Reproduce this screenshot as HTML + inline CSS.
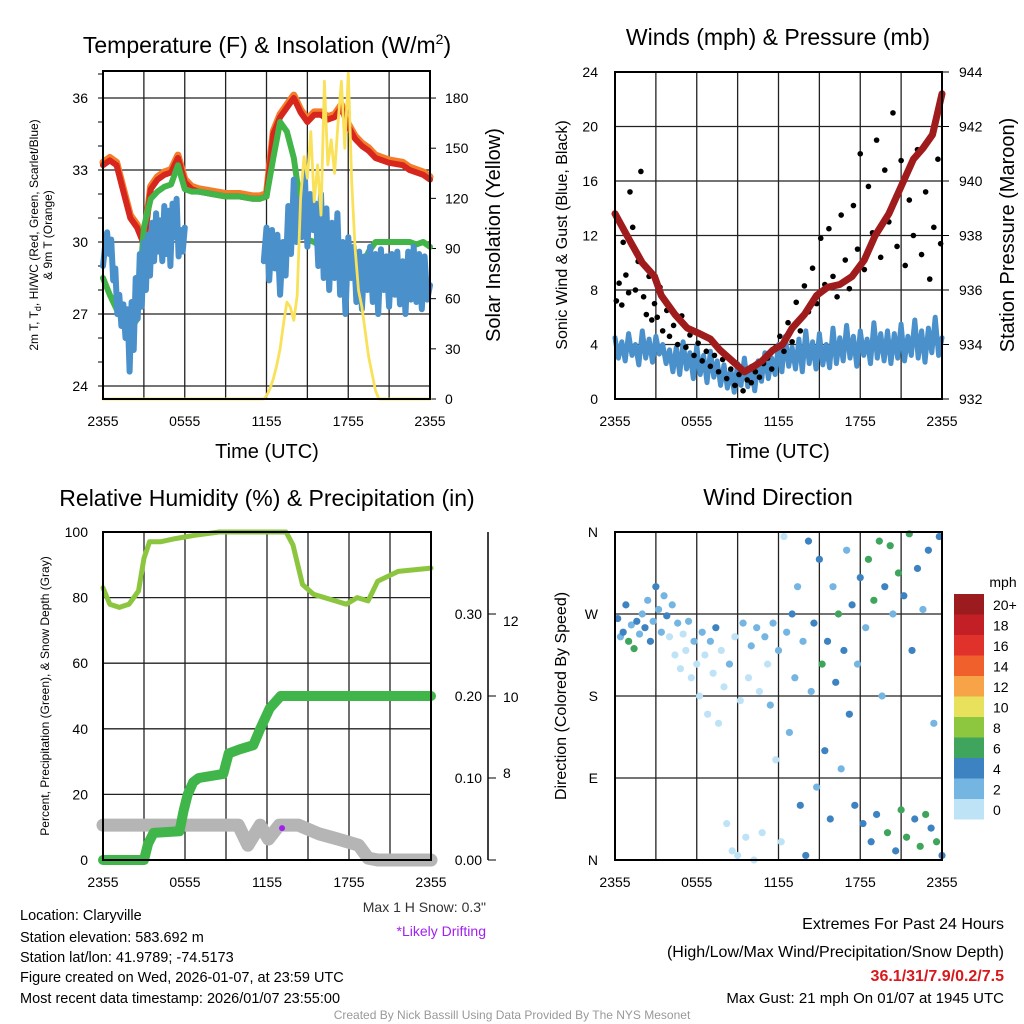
<!DOCTYPE html>
<html><head><meta charset="utf-8"><style>
html,body{margin:0;padding:0;background:#fff;}
svg{display:block;font-family:"Liberation Sans",sans-serif;}
</style></head><body>
<svg id="root" width="1024" height="1024" viewBox="0 0 1024 1024">
<g id="g1"></g>
<g id="g2"></g>
<g id="g3"></g>
<g id="g4"></g>
<g id="txt">
<text x="267" y="53" font-size="23" text-anchor="middle">Temperature (F) &amp; Insolation (W/m<tspan dy="-9" font-size="14">2</tspan><tspan dy="9">)</tspan></text>
<text x="778" y="45" font-size="23" text-anchor="middle">Winds (mph) &amp; Pressure (mb)</text>
<text x="267" y="506" font-size="23" text-anchor="middle">Relative Humidity (%) &amp; Precipitation (in)</text>
<text x="778" y="505" font-size="23" text-anchor="middle">Wind Direction</text>
<text x="267" y="458" font-size="20" text-anchor="middle">Time (UTC)</text>
<text x="778" y="458" font-size="20" text-anchor="middle">Time (UTC)</text>
<text transform="translate(38,235) rotate(-90)" font-size="12" text-anchor="middle">2m T, T<tspan dy="3" font-size="9">d</tspan><tspan dy="-3">, HI/WC (Red, Green, Scarlet/Blue)</tspan></text>
<text transform="translate(52,235) rotate(-90)" font-size="12" text-anchor="middle">&amp; 9m T (Orange)</text>
<text transform="translate(500,235) rotate(-90)" font-size="20" text-anchor="middle">Solar Insolation (Yellow)</text>
<text transform="translate(567,235) rotate(-90)" font-size="16" text-anchor="middle">Sonic Wind &amp; Gust (Blue, Black)</text>
<text transform="translate(1014,235) rotate(-90)" font-size="20" text-anchor="middle">Station Pressure (Maroon)</text>
<text transform="translate(49,696) rotate(-90)" font-size="12" text-anchor="middle">Percent, Precipitation (Green), &amp; Snow Depth (Gray)</text>
<text transform="translate(566,696) rotate(-90)" font-size="16" text-anchor="middle">Direction (Colored By Speed)</text>
<text x="486" y="912" font-size="14" text-anchor="end" fill="#333">Max 1 H Snow: 0.3"</text>
<text x="486" y="936" font-size="14" text-anchor="end" fill="#a020f0">*Likely Drifting</text>
<g font-size="14.5">
<text x="20" y="920">Location: Claryville</text>
<text x="20" y="942">Station elevation: 583.692 m</text>
<text x="20" y="962">Station lat/lon: 41.9789; -74.5173</text>
<text x="20" y="982">Figure created on Wed, 2026-01-07, at 23:59 UTC</text>
<text x="20" y="1003">Most recent data timestamp: 2026/01/07 23:55:00</text>
</g>
<g font-size="16" text-anchor="end">
<text x="1004" y="929">Extremes For Past 24 Hours</text>
<text x="1004" y="957">(High/Low/Max Wind/Precipitation/Snow Depth)</text>
<text x="1004" y="981" fill="#d7191c" font-weight="bold">36.1/31/7.9/0.2/7.5</text>
<text x="1004" y="1003" font-size="15">Max Gust: 21 mph On 01/07 at 1945 UTC</text>
</g>
<text x="512" y="1019" font-size="12" text-anchor="middle" fill="#999">Created By Nick Bassill Using Data Provided By The NYS Mesonet</text>
</g>
</svg>
<script>
// ---------- data ----------
const xTickLabels = ["2355","0555","1155","1755","2355"];
const tempTimes = [0,0.5,1,1.5,2,2.5,3,3.5,4,4.5,5,5.5,6,6.5,7,8,9,10,11,11.5,12,12.5,13,13.5,14,14.5,15,15.5,16,16.5,17,17.5,18,18.5,19,19.5,20,21,22,22.5,23,23.5,24];
const hiwcTemps = [33.2,33.4,33.2,32.1,31.0,30.6,29.9,32.2,32.6,32.8,32.9,33.5,32.5,32.2,32.1,32.0,31.9,31.9,31.8,31.8,31.9,34.5,35.2,35.6,36.0,35.4,35.0,35.3,35.3,35.1,35.2,35.6,34.8,34.3,34.0,33.8,33.5,33.3,33.2,33.0,32.9,32.8,32.6];
const dewTemps = [28.5,27.8,27.2,26.7,26.3,26.8,30.6,31.8,32.1,32.3,32.4,33.2,32.2,32.1,32.1,32.0,31.9,31.9,31.8,31.8,31.9,33.5,35.0,34.6,33.5,31.5,30.1,30.0,29.8,29.7,29.2,28.6,28.5,28.7,29.0,29.6,30.0,30.0,30.0,30.0,29.9,30.0,29.8];
const blueTimes1 = [0,0.15,0.3,0.45,0.6,0.75,0.9,1.05,1.2,1.35,1.5,1.65,1.8,1.95,2.1,2.25,2.4,2.55,2.7,2.85,3.0,3.15,3.3,3.45,3.6,3.75,3.9,4.05,4.2,4.35,4.5,4.65,4.8,4.95,5.1,5.25,5.4,5.55,5.7,5.85,6.0];
const blueTemps1 = [29.0,29.8,30.4,29.5,30.1,28.4,28.9,27.0,27.8,26.5,27.4,26.0,27.2,24.6,27.5,25.5,28.5,26.8,29.5,27.3,30.0,28.0,30.3,28.6,30.8,29.2,31.2,29.6,30.9,29.2,31.5,29.5,31.3,29.0,31.6,30.2,31.8,29.4,30.5,29.6,30.6];
const blueTimes2 = [11.8,12.0,12.2,12.4,12.6,12.8,13.0,13.2,13.4,13.6,13.8,14.0,14.2,14.4,14.6,14.8,15.0,15.2,15.4,15.6,15.8,16.0,16.2,16.4,16.6,16.8,17.0,17.2,17.4,17.6,17.8,18.0,18.2,18.4,18.6,18.8,19.0,19.2,19.4,19.6,19.8,20.0,20.2,20.4,20.6,20.8,21.0,21.2,21.4,21.6,21.8,22.0,22.2,22.4,22.6,22.8,23.0,23.2,23.4,23.6,23.8,24.0];
const blueTemps2 = [29.2,30.6,28.4,30.5,28.9,30.3,27.8,30.0,28.6,31.5,29.5,32.6,30.0,31.8,30.2,33.0,29.8,32.0,30.5,31.6,29.0,32.0,28.5,31.4,28.0,30.8,28.5,31.2,27.8,30.0,27.0,30.2,28.5,29.8,27.5,29.6,27.2,29.4,28.0,29.8,27.5,29.5,27.0,29.7,28.0,29.4,27.3,29.5,27.8,29.6,27.4,29.2,27.0,29.6,27.6,29.8,27.5,29.5,27.2,29.4,27.6,28.2];
const solarTimes = [0,11.8,12,12.25,12.5,12.75,13,13.25,13.5,13.75,14,14.25,14.5,14.75,15,15.25,15.5,15.75,16,16.25,16.5,16.75,17,17.25,17.5,17.75,18,18.25,18.5,18.75,19,19.25,19.5,19.75,20,20.25,24];
const solarValues = [0,0,2,6,12,20,30,45,58,55,47,62,120,145,132,160,118,140,110,190,140,155,135,165,190,150,195,130,90,65,55,40,25,15,5,0,0];

const windTicks = [0,4,8,12,16,20,24];
const pressTicks = [932,934,936,938,940,942,944];
const sonicWind = [4.5,3.0,4.2,2.8,4.8,3.2,4.0,2.5,5.0,3.0,4.4,2.7,4.6,3.3,4.0,2.6,
3.6,2.0,3.8,1.8,4.2,2.2,3.4,1.5,3.9,1.8,3.2,1.2,3.5,1.6,2.8,1.0,
2.5,0.8,2.2,0.5,2.6,1.0,3.0,0.9,2.4,0.6,2.8,1.3,3.4,1.5,3.0,1.8,
4.0,2.0,4.6,2.4,3.8,2.2,4.4,2.0,5.0,2.6,4.2,2.2,4.8,2.5,4.0,2.3,
5.2,2.6,4.5,2.8,5.4,3.0,4.6,2.4,5.0,3.2,4.4,2.6,5.6,3.0,4.8,2.8,
5.0,2.6,4.8,3.0,5.5,2.8,4.6,3.2,5.8,3.0,5.0,2.7,5.2,3.4,6.0,3.2,4.5];
const gustTimes = [0.1,0.3,0.5,0.6,0.8,1.0,1.1,1.3,1.5,1.7,1.9,2.1,2.3,2.5,2.7,2.9,3.1,3.3,3.5,3.8,4.0,4.3,4.6,4.9,5.2,5.5,5.8,6.1,6.4,6.7,7.0,7.3,7.6,7.9,8.2,8.5,8.8,9.1,9.4,9.7,10.0,10.3,10.6,10.9,11.2,11.5,11.8,12.1,12.4,12.7,13.0,13.3,13.6,13.9,14.2,14.5,14.8,15.1,15.4,15.7,16.0,16.3,16.6,16.9,17.2,17.5,17.8,18.0,18.3,18.6,18.9,19.2,19.5,19.8,20.1,20.4,20.7,21.0,21.3,21.6,21.9,22.2,22.5,22.8,23.1,23.4,23.7,23.9];
const gustValues = [7.2,8.5,6.9,11.5,9.1,7.8,15.2,12.6,8.0,10.1,16.7,7.5,6.2,9.0,5.8,7.0,6.0,8.2,5.0,6.5,4.6,5.4,4.0,6.1,3.8,4.7,3.2,4.1,2.8,3.5,2.4,3.2,2.0,2.9,1.5,2.2,1.0,1.8,0.6,1.4,1.2,2.0,1.6,2.6,3.0,2.2,3.8,4.6,3.5,5.6,4.2,7.1,5.0,8.3,6.4,9.6,7.0,11.8,8.4,12.5,9.0,7.5,13.5,10.2,8.1,14.2,11.0,18.0,9.5,15.6,12.2,19.0,10.4,16.8,13.0,21.0,11.2,17.5,9.8,14.6,12.0,18.3,10.6,15.2,8.8,12.6,17.6,11.4];
const pressTimes = [0,1.1,2.0,2.9,3.4,4.4,5.3,6.2,7.0,7.7,8.6,9.5,10.2,10.8,11.6,12.3,13.0,13.9,14.8,15.6,16.5,17.4,18.3,19.1,20.1,21.0,21.9,22.6,23.3,24];
const pressValues = [938.8,937.8,937.0,936.5,935.8,935.1,934.6,934.4,934.2,933.8,933.4,933.0,933.2,933.4,933.8,934.0,934.6,935.1,935.8,936.1,936.2,936.5,937.1,938.0,938.8,939.8,940.8,941.2,941.7,943.2];

const rhTimes = [0,0.5,1.2,1.9,2.6,3.0,3.4,4.2,5.3,6.7,8.5,10.5,12.0,13.4,13.9,14.6,15.4,17.0,17.8,18.6,19.4,20.1,21.6,24];
const rhValues = [83,78,77,78,82,92,97,97,98,99,100,100,100,100,96,84,81,79,78,80,79,85,88,89];
const precipTimes = [0,3.0,3.3,3.7,5.6,5.9,6.2,6.6,7.0,8.8,9.2,10.0,11.0,11.5,12.2,13.0,24];
const precipValues = [0,0,0.02,0.033,0.035,0.06,0.08,0.095,0.10,0.105,0.13,0.135,0.14,0.16,0.185,0.20,0.20];
const snowTimes = [0,9.9,10.6,11.5,12.1,12.9,14.3,15.8,17.2,18.7,19.4,20.1,24];
const snowValues = [6.63,6.63,6.1,6.63,6.26,6.63,6.63,6.4,6.26,6.1,5.76,5.71,5.71];
const precipTicks = ["0.00","0.10","0.20","0.30"];
const snowTicks = [8,10,12];

const dirLabels = ["N","E","S","W","N"];
const dirTimes = [0.2,0.4,0.6,0.8,1.0,1.2,1.4,1.6,1.8,2.0,2.2,2.4,2.6,2.8,3.0,3.2,3.4,3.6,3.8,4.0,4.2,4.4,4.6,4.8,5.0,5.2,5.4,5.6,5.8,6.0,6.2,6.4,6.6,6.8,7.0,7.2,7.4,7.6,7.8,8.0,8.2,8.4,8.6,8.8,9.0,9.2,9.4,9.6,9.8,10.0,10.2,10.4,10.6,10.8,11.0,11.2,11.4,11.6,11.8,12.0,12.2,12.4,12.6,12.8,13.0,13.2,13.4,13.6,13.8,14.0,14.2,14.4,14.6,14.8,15.0,15.2,15.4,15.6,15.8,16.0,16.2,16.4,16.6,16.8,17.0,17.2,17.4,17.6,17.8,18.0,18.2,18.4,18.6,18.8,19.0,19.2,19.4,19.6,19.8,20.0,20.2,20.4,20.6,20.8,21.0,21.2,21.4,21.6,21.8,22.0,22.2,22.4,22.6,22.8,23.0,23.2,23.4,23.6,23.8,24.0];
const dirDegs = [265,245,250,280,240,258,232,262,248,270,255,285,240,262,300,275,250,290,268,245,280,225,260,210,248,230,262,200,240,215,180,250,225,160,240,205,255,150,230,190,40,215,10,245,5,175,260,25,200,235,0,255,185,30,245,215,170,260,110,230,20,355,250,140,270,200,300,60,240,5,350,185,260,80,330,215,120,240,45,300,195,270,100,230,340,160,280,60,215,310,40,255,330,20,285,50,350,180,300,30,345,270,10,315,55,290,25,358,230,45,320,15,275,50,340,35,150,20,355,5];
const dirSpeeds = [4,3,5,4,6,3,7,4,2,3,5,2,4,3,4,3,2,3,4,1,2,1,2,1,1,0,3,1,2,0,1,2,0,1,3,1,4,1,0,1,1,2,0,1,0,0,2,1,1,3,0,2,1,0,2,1,2,3,1,2,0,1,3,2,4,2,3,4,3,4,5,3,4,3,4,6,4,5,4,3,4,6,2,4,3,4,5,5,3,5,4,3,6,5,7,4,6,3,4,6,7,3,5,6,7,4,6,6,4,5,5,7,3,6,4,4,3,7,5,4];
const cbarLabels = ["20+","18","16","14","12","10","8","6","4","2","0"];
const cbarColors = ["#9b1b1e","#c21f26","#e0312b","#f0602d","#f7a348","#e8e15c","#8dc63f","#3fa45c","#3d82c1","#75b5e2","#bfe3f6"];

// ---------- helpers ----------
const NS = "http://www.w3.org/2000/svg";
function mk(parent, tag, attrs){ const e=document.createElementNS(NS,tag); for(const k in attrs) e.setAttribute(k,attrs[k]); parent.appendChild(e); return e; }
function txt(parent,x,y,s,size,anchor){ const e=mk(parent,"text",{x:x,y:y,"font-size":size,"text-anchor":anchor}); e.textContent=s; return e; }
function pathD(ts,vs,xf,yf){ let d=""; for(let i=0;i<ts.length;i++){ d+=(i?"L":"M")+xf(ts[i]).toFixed(1)+","+yf(vs[i]).toFixed(1);} return d; }
function frame(g,x0,x1,y0,y1){
  for(let h=3;h<24;h+=3){ const x=x0+(x1-x0)*h/24; const l=mk(g,"line",{x1:x,x2:x,y1:y0,y2:y1,stroke:"#222","stroke-width":1.3});
  
   }
  xTickLabels.forEach((s,i)=>{ const t=txt(g,x0+(x1-x0)*i/4,y1+27,s,14,"middle");
  
   });
}
function border(g,x0,x1,y0,y1){ const r=mk(g,"rect",{x:x0,y:y0,width:x1-x0,height:y1-y0,fill:"none",stroke:"#000","stroke-width":2});
  
   }
function hgrid(g,x0,x1,y){ const l=mk(g,"line",{x1:x0,x2:x1,y1:y,y2:y,stroke:"#222","stroke-width":1.3});
  
   }
function series(g,ts,vs,xf,yf,color,w,name){ const p=mk(g,"path",{d:pathD(ts,vs,xf,yf),fill:"none",stroke:color,"stroke-width":w,"stroke-linejoin":"round","stroke-linecap":"round"});
  
   return p; }

// ---------- panel 1 ----------
(function(){
  const g=document.getElementById("g1"); const x0=103,x1=430,y0=71,y1=399;
  const X=t=>x0+(x1-x0)*t/24, Y=v=>386-(v-24)*24, YS=v=>399-v*1.672;
  frame(g,x0,x1,y0,y1);
  [24,27,30,33,36].forEach(v=>{ hgrid(g,x0,x1,Y(v)); const t=txt(g,x0-15,Y(v)+5,String(v),14,"end");
    
     });
  [0,30,60,90,120,150,180].forEach(v=>{ const t=txt(g,x1+15,YS(v)+5,String(v),14,"start");
    
     mk(g,"line",{x1:x1,x2:x1+6,y1:YS(v),y2:YS(v),stroke:"#000"}); });
  for(let v=24;v<=37;v++) mk(g,"line",{x1:x0-5,x2:x0,y1:Y(v),y2:Y(v),stroke:"#000"});
  series(g,tempTimes,hiwcTemps.map(v=>v+0.12),X,Y,"#f47d2a",7,"orange-9m-temp-line");
  series(g,tempTimes,hiwcTemps,X,Y,"#d7261e",6,"red-hiwc-line");
  series(g,tempTimes,dewTemps,X,Y,"#42b549",6,"green-dewpoint-line");
  series(g,blueTimes1,blueTemps1,X,Y,"#4a90cb",6,"blue-temp-line-early");
  series(g,blueTimes2,blueTemps2,X,Y,"#4a90cb",6,"blue-temp-line-late");
  series(g,solarTimes,solarValues,X,YS,"#f9e15a",2.8,"yellow-solar-line");
  border(g,x0,x1,y0,y1);
})();

// ---------- panel 2 ----------
(function(){
  const g=document.getElementById("g2"); const x0=615,x1=942,y0=72,y1=399;
  const X=t=>x0+(x1-x0)*t/24, Y=v=>y1-v*13.625, YP=p=>y1-(p-932)*27.25;
  frame(g,x0,x1,y0,y1);
  windTicks.forEach(v=>{ if(v>0&&v<24) hgrid(g,x0,x1,Y(v)); const t=txt(g,x0-17,Y(v)+5,String(v),14,"end");
    
     });
  pressTicks.forEach(p=>{ const t=txt(g,x1+17,YP(p)+5,String(p),14,"start");
    
     mk(g,"line",{x1:x1,x2:x1+7,y1:YP(p),y2:YP(p),stroke:"#000"}); });
  const wt=sonicWind.map((v,i)=>i*0.25);
  series(g,wt,sonicWind,X,Y,"#4a90cb",5,"sonic-wind-line");
  gustValues.forEach((v,i)=>{ const c=mk(g,"circle",{cx:X(gustTimes[i]),cy:Y(v),r:2.8,fill:"#000"});
    
     });
  series(g,pressTimes,pressValues,X,YP,"#a01b1b",7,"pressure-line");
  border(g,x0,x1,y0,y1);
})();

// ---------- panel 3 ----------
(function(){
  const g=document.getElementById("g3"); const x0=103,x1=431,y0=532,y1=860;
  const X=t=>x0+(x1-x0)*t/24, Y=v=>y1-v*3.28, YR=v=>y1-v*820, YN=v=>773-(v-8)*38;
  frame(g,x0,x1,y0,y1);
  [0,20,40,60,80,100].forEach(v=>{ if(v>0&&v<100) hgrid(g,x0,x1,Y(v)); const t=txt(g,x0-15,Y(v)+5,String(v),14,"end");
    
     });
  mk(g,"line",{x1:488,x2:488,y1:y0,y2:y1,stroke:"#000","stroke-width":1.5});
  precipTicks.forEach(s=>{ const y=YR(parseFloat(s)); const t=txt(g,482,y+5,s,14,"end");
    
     mk(g,"line",{x1:488,x2:496,y1:y,y2:y,stroke:"#000"}); });
  snowTicks.forEach(v=>{ const y=YN(v); const t=txt(g,503,y+5,String(v),14,"start");
    
     });
  series(g,snowTimes,snowValues,X,YN,"#b5b5b5",13,"snow-depth-line");
  const pd=mk(g,"circle",{cx:X(13.1),cy:YN(6.55),r:3,fill:"#a020f0"});
  
  
  series(g,precipTimes,precipValues,X,YR,"#40b64a",10,"precipitation-line");
  series(g,rhTimes,rhValues,X,Y,"#8cc63f",5,"humidity-line");
  border(g,x0,x1,y0,y1);
})();

// ---------- panel 4 ----------
(function(){
  const g=document.getElementById("g4"); const x0=615,x1=942,y0=532,y1=860;
  const X=t=>x0+(x1-x0)*t/24, Y=d=>y1-d*(y1-y0)/360;
  frame(g,x0,x1,y0,y1);
  dirLabels.forEach((s,i)=>{ const y=Y(i*90); if(i>0&&i<4) hgrid(g,x0,x1,y); const t=txt(g,x0-17,y+5,s,14,"end");
    
     });
  dirDegs.forEach((d,i)=>{ const idx=Math.min(10,Math.floor(dirSpeeds[i]/2)); const c=mk(g,"circle",{cx:X(dirTimes[i]),cy:Y(d),r:3.6,fill:cbarColors[10-idx]});
    
     });
  border(g,x0,x1,y0,y1);
  const t0=txt(g,1003,587,"mph",14,"middle");
  
  
  cbarLabels.forEach((s,i)=>{ const y=594+i*20.5;
    const r=mk(g,"rect",{x:954,y:y,width:30,height:20.5,fill:cbarColors[i]});
    
    
    const t=txt(g,993,y+16,s,14,"start");
    
     });
})();
</script>
</body></html>
